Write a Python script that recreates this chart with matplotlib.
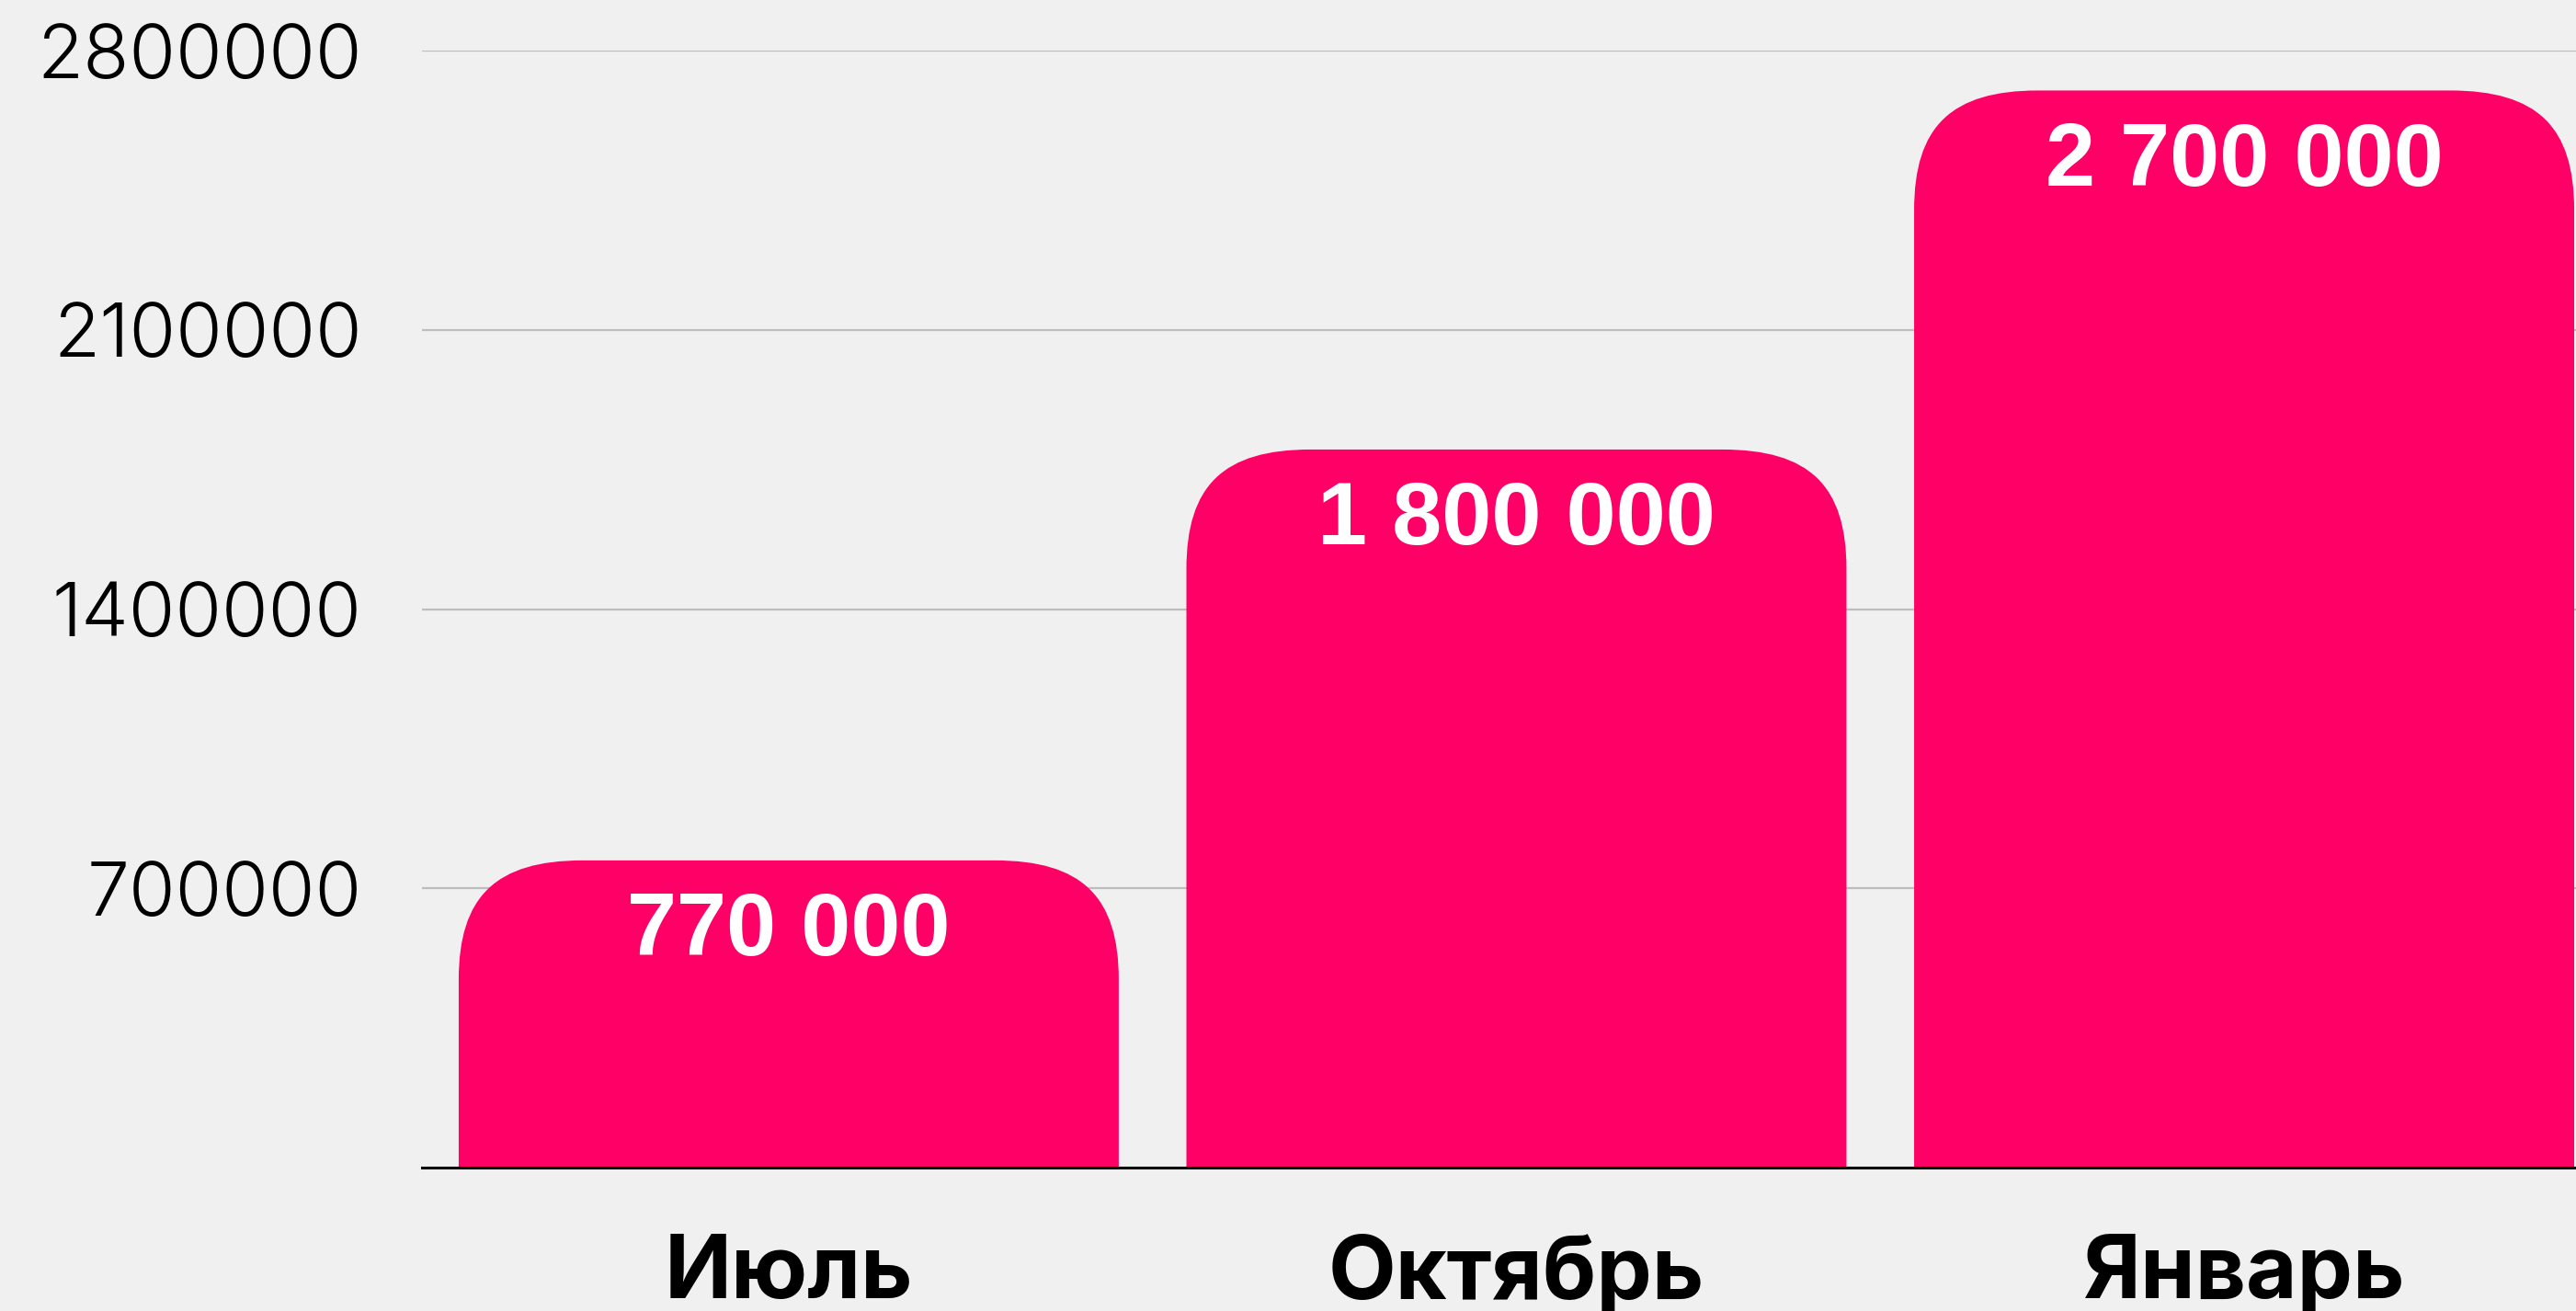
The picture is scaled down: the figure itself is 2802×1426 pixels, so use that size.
import numpy as np
import matplotlib
matplotlib.use("Agg")
import matplotlib.pyplot as plt
from matplotlib.path import Path
from matplotlib.patches import PathPatch

# data
months = ["Июль", "Октябрь", "Январь"]
revenue = [770000, 1800000, 2700000]
value_labels = ["770 000", "1 800 000", "2 700 000"]
ytick_vals = [700000, 1400000, 2100000, 2800000]
ytick_labels = ["700000", "1400000", "2100000", "2800000"]

bg = "#f0f0f0"
bar_color = "#ff0066"
DPI = 100

fig = plt.figure(figsize=(28.02, 14.26), dpi=DPI, facecolor=bg)
ax = fig.add_axes([0.1638, 0.1094, 1 - 0.1638, 0.9614 - 0.1094])
ax.set_facecolor(bg)

x = np.arange(len(months))
bars = ax.bar(x, revenue, width=0.907, color=bar_color, zorder=2)
ax.set_xlim(-0.504, 2.456)
ax.set_ylim(0, 2800000)

# grid + axes
ax.set_yticks(ytick_vals, ytick_labels)
ax.yaxis.grid(True, color="#bdbdbd", linewidth=1.6, zorder=0)
ax.set_axisbelow(True)
for s in ax.spines.values():
    s.set_visible(False)
ax.axhline(0, color="black", linewidth=2.2, zorder=4, clip_on=False)
ax.tick_params(axis="y", length=0, pad=47, labelsize=59)
ax.tick_params(axis="x", length=0, pad=52, labelsize=69)
for lab in ax.get_yticklabels():
    lab.set_family(["Inter", "DejaVu Sans"])
    lab.set_fontweight(300)
ax.set_xticks(x, months)
for lab in ax.get_xticklabels():
    lab.set_family(["Inter", "DejaVu Sans"])
    lab.set_fontweight(700)

# rounded tops: radius in pixels converted to data units
fig.canvas.draw()
p0 = ax.transData.transform((0, 0))
p1 = ax.transData.transform((1, 1000000))
rx = 135 / (p1[0] - p0[0])
ry = 130 / (p1[1] - p0[1]) * 1000000
k = 0.7
for rect in bars:
    x0 = rect.get_x()
    x1 = x0 + rect.get_width()
    h = rect.get_height()
    verts = [
        (x0, 0), (x0, h - ry),
        (x0, h - ry + k * ry), (x0 + rx - k * rx, h), (x0 + rx, h),
        (x1 - rx, h),
        (x1 - rx + k * rx, h), (x1, h - ry + k * ry), (x1, h - ry),
        (x1, 0), (x0, 0),
    ]
    codes = [Path.MOVETO, Path.LINETO,
             Path.CURVE4, Path.CURVE4, Path.CURVE4,
             Path.LINETO,
             Path.CURVE4, Path.CURVE4, Path.CURVE4,
             Path.LINETO, Path.CLOSEPOLY]
    ax.add_patch(PathPatch(Path(verts, codes), facecolor=bar_color,
                           edgecolor="none", zorder=2, clip_on=False))
    rect.set_visible(False)

for xi, v, t in zip(x, revenue, value_labels):
    ax.annotate(t, (xi, v), xytext=(0, -24), textcoords="offset points",
                ha="center", va="top", color="white", fontsize=70,
                fontweight="bold", family=["Liberation Sans", "DejaVu Sans"],
                zorder=5)

fig.savefig("out.png", dpi=DPI, facecolor=bg)
